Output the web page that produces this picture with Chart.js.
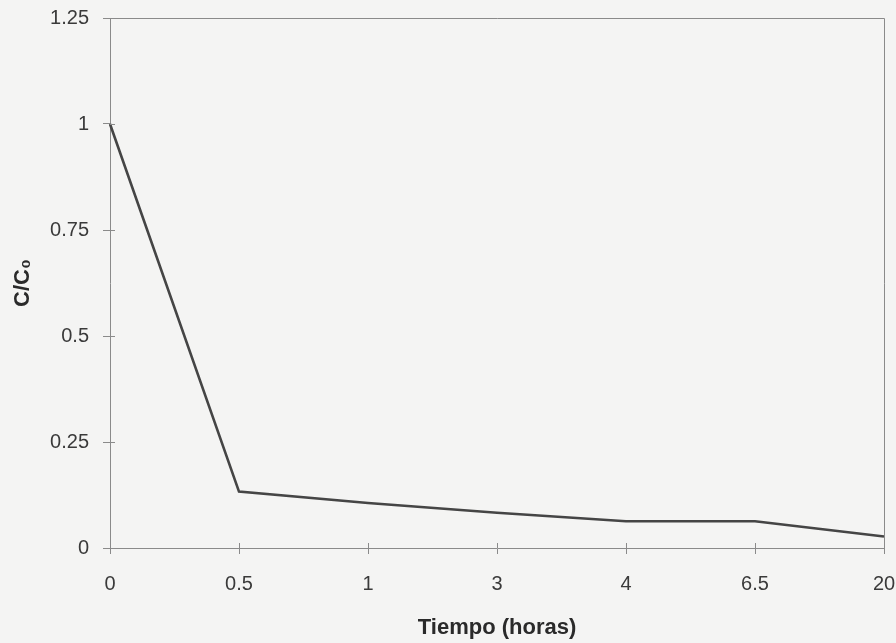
<!DOCTYPE html>
<html>
<head>
<meta charset="utf-8">
<script src="https://cdn.jsdelivr.net/npm/chart.js@4/dist/chart.umd.min.js"></script>
<style>
  html, body { margin: 0; padding: 0; background: #f4f4f3; }
  #wrap { width: 896px; height: 643px; }
</style>
</head>
<body>
<div id="wrap"><canvas id="chart" width="896" height="643"></canvas></div>
<script>
// Données
const tiempos = ['0', '0.5', '1', '3', '4', '6.5', '20'];
const concentracion = [1.0, 0.133, 0.106, 0.083, 0.063, 0.063, 0.027];
const yMin = 0;
const yMax = 1.25;
const yPaso = 0.25;

const axisColor = '#8a8a8a';
const textColor = '#3a3a3a';
const police = 'Liberation Sans, Arial, sans-serif';

// Cadre haut / droite + petites graduations vers l'intérieur
const marcoPlugin = {
    id: 'marco',
    afterDraw(chart) {
        const { ctx, chartArea, scales } = chart;
        ctx.save();
        ctx.strokeStyle = axisColor;
        ctx.lineWidth = 1;
        ctx.beginPath();
        ctx.moveTo(chartArea.left, chartArea.top + 0.5);
        ctx.lineTo(chartArea.right + 0.5, chartArea.top + 0.5);
        ctx.lineTo(chartArea.right + 0.5, chartArea.bottom);
        scales.y.ticks.forEach((t, i) => {
            const py = Math.round(scales.y.getPixelForTick(i)) + 0.5;
            ctx.moveTo(chartArea.left, py);
            ctx.lineTo(chartArea.left + 5, py);
        });
        scales.x.ticks.forEach((t, i) => {
            const px = Math.round(scales.x.getPixelForTick(i)) + 0.5;
            ctx.moveTo(px, chartArea.bottom);
            ctx.lineTo(px, chartArea.bottom - 5);
        });
        ctx.stroke();
        ctx.restore();
    }
};

const ctx = document.getElementById('chart').getContext('2d');
const chart = new Chart(ctx, {
    type: 'line',
    data: {
        labels: tiempos,
        datasets: [{
            label: 'C/C₀',
            data: concentracion,
            borderColor: '#454545',
            borderWidth: 2.6,
            pointRadius: 0,
            tension: 0,
            fill: false
        }]
    },
    options: {
        responsive: false,
        animation: false,
        layout: { padding: { top: 18, right: 12, left: 0, bottom: 0 } },
        plugins: {
            legend: { display: false },
            tooltip: { enabled: false }
        },
        scales: {
            x: {
                offset: false,
                grid: {
                    drawOnChartArea: false,
                    color: axisColor,
                    tickLength: 6
                },
                border: { color: axisColor },
                ticks: {
                    color: textColor,
                    font: { family: police, size: 20 },
                    padding: 18,
                    maxRotation: 0,
                    autoSkip: false
                },
                title: {
                    display: true,
                    text: 'Tiempo (horas)',
                    color: '#2a2a2a',
                    font: { family: police, size: 22, weight: 'bold' },
                    padding: { top: 4, bottom: 2 }
                },
                afterFit(scale) {
                    scale.height = 95;
                    // le dernier libellé "20" déborde, comme sur l'original
                    scale.paddingLeft = 0;
                    scale.paddingRight = 0;
                }
            },
            y: {
                min: yMin,
                max: yMax,
                grid: {
                    drawOnChartArea: false,
                    color: axisColor,
                    tickLength: 7
                },
                border: { color: axisColor },
                ticks: {
                    stepSize: yPaso,
                    color: textColor,
                    font: { family: police, size: 20 },
                    padding: 14,
                    callback: v => String(v)
                },
                title: {
                    display: true,
                    text: 'C/C₀',
                    color: '#2a2a2a',
                    font: { family: police, size: 22, weight: 'bold' },
                    padding: { top: 10, bottom: 0 }
                },
                afterFit(scale) {
                    scale.width = 110;
                    scale.paddingTop = 0;
                    scale.paddingBottom = 0;
                }
            }
        }
    },
    plugins: [marcoPlugin]
});
</script>
</body>
</html>
